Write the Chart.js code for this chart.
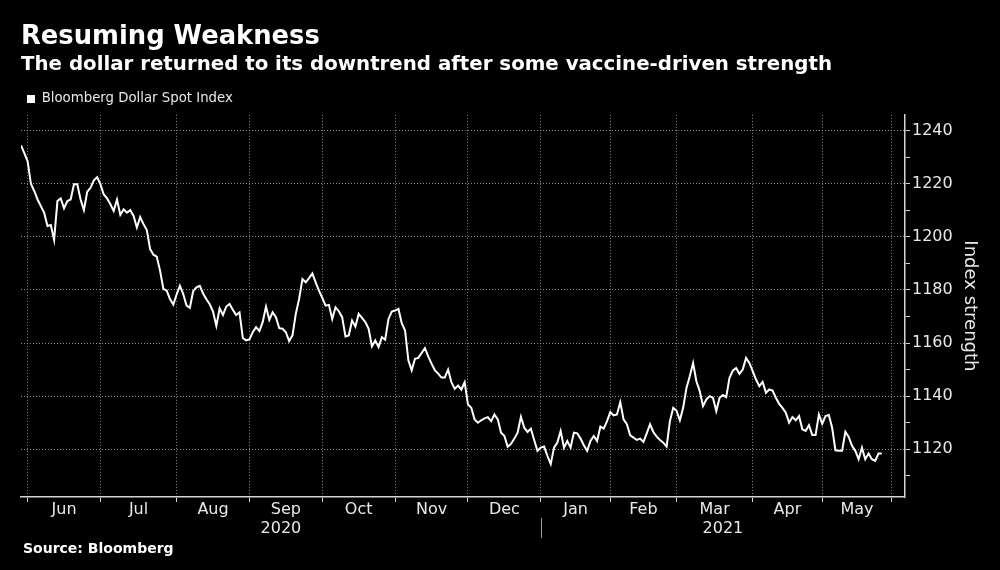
<!DOCTYPE html>
<html>
<head>
<meta charset="utf-8">
<script src="https://cdn.jsdelivr.net/npm/chart.js@4.4.1/dist/chart.umd.min.js"></script>
<style>
  html, body { margin: 0; padding: 0; background: #000; }
  #wrap { width: 1000px; height: 570px; }
</style>
</head>
<body>
<div id="wrap"><canvas id="c" width="1000" height="570"></canvas></div>
<script>
// ---------------- Data ----------------
const seriesName = 'Bloomberg Dollar Spot Index';
const monthLabels = ['Jun', 'Jul', 'Aug', 'Sep', 'Oct', 'Nov', 'Dec', 'Jan', 'Feb', 'Mar', 'Apr', 'May'];
const monthTradingDays = [22, 23, 22, 22, 22, 22, 22, 21, 20, 23, 21, 21];
const yearLabels = ['2020', '2021'];
const yMajorTicks = [1120, 1140, 1160, 1180, 1200, 1220, 1240];
const yMinorTicks = [1110, 1130, 1150, 1170, 1190, 1210, 1230];

// daily closes
const may2020 = [1234.5, 1231.6];
const jun2020 = [1228.5, 1220, 1217.3, 1214.1, 1211.6, 1209.1, 1204.1, 1204.5, 1198.9, 1213.5, 1214.5,
                 1210.8, 1213.5, 1214.1, 1219.8, 1219.8, 1214.1, 1210.1, 1217, 1218.5, 1221.3, 1222.5];
const jul2020 = [1219.8, 1216, 1214.5, 1212.3, 1209.8, 1214.1, 1208.3, 1210.4, 1209.1, 1210.1, 1207.9, 1203.5,
                 1207.5, 1204.8, 1202.6, 1195.4, 1193.3, 1192.6, 1187.3, 1180.4, 1179.8, 1176.6, 1174.5];
const aug2020 = [1178.3, 1181.6, 1178.5, 1174.1, 1173.3, 1179.5, 1181, 1181.6, 1178.7, 1176.5, 1174.6,
                 1171.9, 1166.5, 1173.1, 1170.6, 1173.75, 1174.75, 1172.5, 1170.6, 1171.6, 1161.9, 1161];
const sep2020 = [1161.4, 1164.1, 1166, 1164.5, 1167.9, 1173.75, 1168.75, 1171.6, 1169.75, 1165.6, 1165.4,
                 1164.1, 1160.75, 1162.9, 1171, 1176.6, 1184.1, 1182.9, 1184.5, 1186.25, 1182.9, 1179.75];
const oct2020 = [1177, 1174.1, 1174.4, 1169.1, 1173.5, 1172, 1169.75, 1162.5, 1162.9, 1168.5, 1166.25,
                 1171, 1169.5, 1167.9, 1165.4, 1158.75, 1161, 1158.5, 1162.25, 1161.25, 1169.1, 1171.9];
const nov2020 = [1172.25, 1172.9, 1167.5, 1164.75, 1153.5, 1149.75, 1154.1, 1154.4, 1156.25, 1158.1, 1155,
                 1152.25, 1149.75, 1148.5, 1147, 1147, 1150, 1145.25, 1142.75, 1144, 1142.5, 1145.25];
const dec2020 = [1136.9, 1135.6, 1131.25, 1130, 1130.9, 1131.6, 1132.1, 1130.6, 1133.1, 1131.25, 1126.25,
                 1125, 1120.9, 1122, 1124, 1126.25, 1132.25, 1128.1, 1126.5, 1127.75, 1123.5, 1119.4];
const jan2021 = [1120.6, 1121, 1117.5, 1114.4, 1120.6, 1122.5, 1126.9, 1120.6, 1123.1, 1120.6, 1126.25,
                 1126, 1124, 1121.5, 1119.4, 1123.1, 1125, 1123.1, 1128.5, 1127.75, 1130.6];
const feb2021 = [1134, 1132.75, 1133.1, 1137.75, 1131.25, 1129.4, 1125.25, 1124.4, 1123.5, 1124,
                 1122.75, 1126, 1129.4, 1126.5, 1124.75, 1123.5, 1122.5, 1121, 1130.6, 1135.6];
const mar2021 = [1134.5, 1130.9, 1135.6, 1143.1, 1147.5, 1152.5, 1145.6, 1141.9, 1136.25, 1138.75, 1140, 1139.4,
                 1134.4, 1139.4, 1140.4, 1139.6, 1146.9, 1149.6, 1150.6, 1148.4, 1150, 1154.4, 1152.5];
const apr2021 = [1149.4, 1146.25, 1143.75, 1145.4, 1141.25, 1142.5, 1142.1, 1139.4, 1137.1, 1135.6, 1133.75,
                 1130, 1132.1, 1130.9, 1132.5, 1127.5, 1126.9, 1129.1, 1125.4, 1125.4, 1133.1];
const may2021 = [1129.6, 1132.5, 1132.9, 1128.1, 1119.6, 1119.4, 1119.4, 1126.6, 1124.6, 1121.25,
                 1119.4, 1116.25, 1120.6, 1116.25, 1118.4, 1116.25, 1115.6, 1118.4, 1118.4];

const titleText = 'Resuming Weakness';
const subtitleText = 'The dollar returned to its downtrend after some vaccine-driven strength';
const yAxisTitle = 'Index strength';
const sourceText = 'Source: Bloomberg';

// ---------------- Build table ----------------
const months = [jun2020, jul2020, aug2020, sep2020, oct2020, nov2020, dec2020, jan2021, feb2021, mar2021, apr2021, may2021];
const monthStarts = [];
let acc = 0;
monthTradingDays.forEach(d => { monthStarts.push(acc); acc += d; });
monthStarts.push(acc); // first session of June 2021
const monthMids = monthTradingDays.map((d, i) => monthStarts[i] + d / 2);

const points = [];
may2020.forEach((v, j) => points.push({ x: j - may2020.length, y: v }));
months.forEach((arr, m) => arr.forEach((v, j) => points.push({ x: monthStarts[m] + j, y: v })));

const X_MIN = -2, X_MAX = 265;
const janStart = monthStarts[7];
const yearMids = [(X_MIN + janStart) / 2, (janStart + X_MAX) / 2];

// ---------------- Styles ----------------
const FONT = '"DejaVu Sans", "Liberation Sans", sans-serif';
const TEXT = '#e8e8e8';
const GRID = '#8c8c8c';
const AXIS = '#d4d4d4';
Chart.defaults.font.family = FONT;
Chart.defaults.color = TEXT;

// year separator (placed with the x scale) and source note
const extrasPlugin = {
  id: 'extras',
  afterDraw(chart) {
    const ctx = chart.ctx;
    const yearAxis = chart.scales.xYears;
    const px = Math.round(chart.scales.x.getPixelForValue(janStart)) + 0.5;
    ctx.save();
    ctx.strokeStyle = '#9a9a9a';
    ctx.lineWidth = 1;
    ctx.beginPath();
    ctx.moveTo(px, yearAxis.top);
    ctx.lineTo(px, yearAxis.bottom - 2);
    ctx.stroke();
    ctx.font = 'bold 14px ' + FONT;
    ctx.fillStyle = '#ffffff';
    ctx.textBaseline = 'middle';
    ctx.textAlign = 'left';
    ctx.fillText(sourceText, 23, chart.height - 20.5);
    ctx.restore();
  }
};

new Chart(document.getElementById('c'), {
  type: 'line',
  data: {
    datasets: [{
      label: seriesName,
      data: points,
      xAxisID: 'x',
      yAxisID: 'y',
      borderColor: '#ffffff',
      backgroundColor: '#ffffff',
      borderWidth: 2,
      pointRadius: 0,
      tension: 0,
      fill: false
    }]
  },
  options: {
    responsive: false,
    animation: false,
    devicePixelRatio: 1,
    parsing: false,
    layout: { padding: { left: 21, right: 20, top: 0, bottom: 30 } },
    plugins: {
      title: {
        display: true, text: titleText, align: 'start', color: '#ffffff',
        font: { size: 25.8, weight: 'bold', family: FONT, lineHeight: 1.2 },
        padding: { top: 22, bottom: 0 }
      },
      subtitle: {
        display: true, text: subtitleText, align: 'start', color: '#ffffff',
        font: { size: 19.8, weight: 'bold', family: FONT, lineHeight: 1.2 },
        padding: { top: 0.2, bottom: 9.4 }
      },
      legend: {
        display: true, align: 'start', maxHeight: 28.5,
        labels: {
          boxWidth: 8, boxHeight: 8, padding: 6, color: TEXT,
          font: { size: 13.3, family: FONT },
          generateLabels: chart => Chart.defaults.plugins.legend.labels.generateLabels(chart)
            .map(l => Object.assign(l, { lineWidth: 0, fillStyle: '#ffffff', strokeStyle: '#ffffff' }))
        }
      },
      tooltip: { enabled: false }
    },
    scales: {
      x: {
        type: 'linear', position: 'bottom', weight: 0, min: X_MIN, max: X_MAX,
        afterBuildTicks: axis => { axis.ticks = monthStarts.map(v => ({ value: v })); },
        ticks: { display: false },
        grid: { display: true, color: GRID, lineWidth: 1, drawTicks: true, tickLength: 5, tickColor: AXIS, tickWidth: 1 },
        border: { display: true, color: AXIS, width: 1.5, dash: [1, 2] }
      },
      xMonths: {
        type: 'linear', position: 'bottom', weight: 1, min: X_MIN, max: X_MAX,
        afterBuildTicks: axis => { axis.ticks = monthMids.map(v => ({ value: v })); },
        ticks: {
          autoSkip: false, maxRotation: 0, padding: 0, color: TEXT,
          font: { size: 16, lineHeight: 1 },
          callback: (v, i) => monthLabels[i]
        },
        grid: { display: false, drawTicks: false },
        border: { display: false }
      },
      xYears: {
        type: 'linear', position: 'bottom', weight: 2, min: X_MIN, max: X_MAX,
        afterBuildTicks: axis => { axis.ticks = yearMids.map(v => ({ value: v })); },
        ticks: {
          autoSkip: false, maxRotation: 0, padding: 3, color: TEXT,
          font: { size: 16, lineHeight: 1 },
          callback: (v, i) => yearLabels[i]
        },
        grid: { display: false, drawTicks: false },
        border: { display: false }
      },
      y: {
        type: 'linear', position: 'right', min: 1102, max: 1246,
        afterBuildTicks: axis => {
          axis.ticks = yMinorTicks.concat(yMajorTicks).sort((a, b) => a - b).map(v => ({ value: v }));
        },
        ticks: {
          autoSkip: false, padding: 2, color: TEXT, font: { size: 16 },
          callback: v => (yMajorTicks.includes(v) ? String(v) : '')
        },
        grid: {
          display: true, lineWidth: 1, drawTicks: true, tickLength: 5, tickColor: AXIS, tickWidth: 1,
          color: c => (c.tick && yMajorTicks.includes(c.tick.value) ? GRID : 'rgba(0,0,0,0)')
        },
        border: { display: true, color: AXIS, width: 1.5, dash: [1, 2] },
        title: {
          display: true, text: yAxisTitle, color: TEXT,
          font: { size: 18, family: FONT, lineHeight: 1.2 },
          padding: { top: 0, bottom: 3.7 }
        }
      }
    }
  },
  plugins: [extrasPlugin]
});
</script>
</body>
</html>
